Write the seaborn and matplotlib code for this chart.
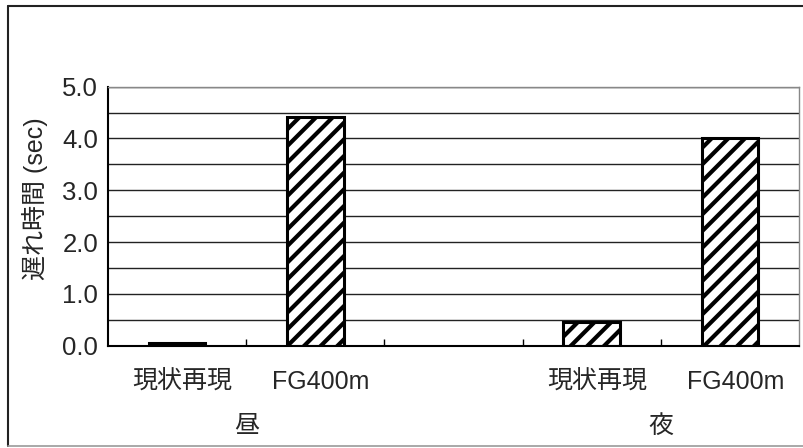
import pandas as pd
import matplotlib
matplotlib.use('Agg')
import matplotlib.pyplot as plt
from matplotlib.lines import Line2D
from matplotlib.ticker import MultipleLocator
import seaborn as sns

# values
slots = ['昼-現状再現', '昼-FG400m', 'gap', '夜-現状再現', '夜-FG400m']
bar_slots = ['昼-現状再現', '昼-FG400m', '夜-現状再現', '夜-FG400m']
bar_labels = ['現状再現', 'FG400m', '現状再現', 'FG400m']
delay_sec = [0.05, 4.41, 0.46, 4.01]
group_labels = ['昼', '夜']
y_ticks = [0.0, 1.0, 2.0, 3.0, 4.0, 5.0]

sns.set_style('white')
plt.rcParams['font.family'] = ['Liberation Sans', 'Noto Sans CJK JP', 'DejaVu Sans']
plt.rcParams['hatch.linewidth'] = 3.0
plt.rcParams['hatch.color'] = 'black'

df = pd.DataFrame({'slot': bar_slots, 'delay': delay_sec})

fig = plt.figure(figsize=(8.04, 4.48), dpi=100)
ax = fig.add_axes([108 / 804, 1 - 345.7 / 448, 691 / 804, 259 / 448])

sns.barplot(data=df, x='slot', y='delay', order=slots, color='white',
            saturation=1, edgecolor='black', linewidth=2.2, width=0.41,
            hatch='//', errorbar=None, ax=ax)

ax.set_xlim(-0.5, len(slots) - 0.5)
ax.set_ylim(0, 5)
ax.set_yticks(y_ticks, labels=[f'{v:.1f}' for v in y_ticks])
ax.yaxis.set_minor_locator(MultipleLocator(0.5))
ax.grid(True, axis='y', which='both', color='#222222', linewidth=1.0)
ax.set_axisbelow(True)
ax.tick_params(axis='y', which='both', length=0, labelsize=18.5, pad=7)

# slot separators on the x axis, pointing inward
ax.set_xticks([i + 0.5 for i in range(len(slots) - 1)], labels=[])
ax.tick_params(axis='x', which='major', bottom=True, direction='in',
               length=5, width=1, color='black')
ax.set_xlabel('')
ax.set_ylabel('遅れ時間 (sec)', fontsize=18)
ax.yaxis.set_label_coords(-0.087, 0.566)

for side in ['left', 'bottom']:
    ax.spines[side].set_color('black')
    ax.spines[side].set_linewidth(1.5)
for side in ['top', 'right']:
    ax.spines[side].set_color('#888888')
    ax.spines[side].set_linewidth(1.0)

xform = ax.get_xaxis_transform()
for name, label in zip(bar_slots, bar_labels):
    x = slots.index(name) + 0.04
    ax.text(x, -0.14, label, transform=xform, ha='center', va='center', fontsize=18)

group_x = [0.5, 3.5]
for gx, label in zip(group_x, group_labels):
    ax.text(gx, -0.31, label, transform=xform, ha='center', va='center', fontsize=18)

# outer frame around the whole chart
fig.add_artist(Line2D([8 / 804, 8 / 804], [2 / 448, 442 / 448], transform=fig.transFigure, color='#222222', lw=1.5))
fig.add_artist(Line2D([8 / 804, 1.0], [442 / 448, 442 / 448], transform=fig.transFigure, color='#222222', lw=1.5))
fig.add_artist(Line2D([8 / 804, 1.0], [2 / 448, 2 / 448], transform=fig.transFigure, color='#999999', lw=1.2))

fig.savefig('out.png', dpi=100)
plt.close(fig)
